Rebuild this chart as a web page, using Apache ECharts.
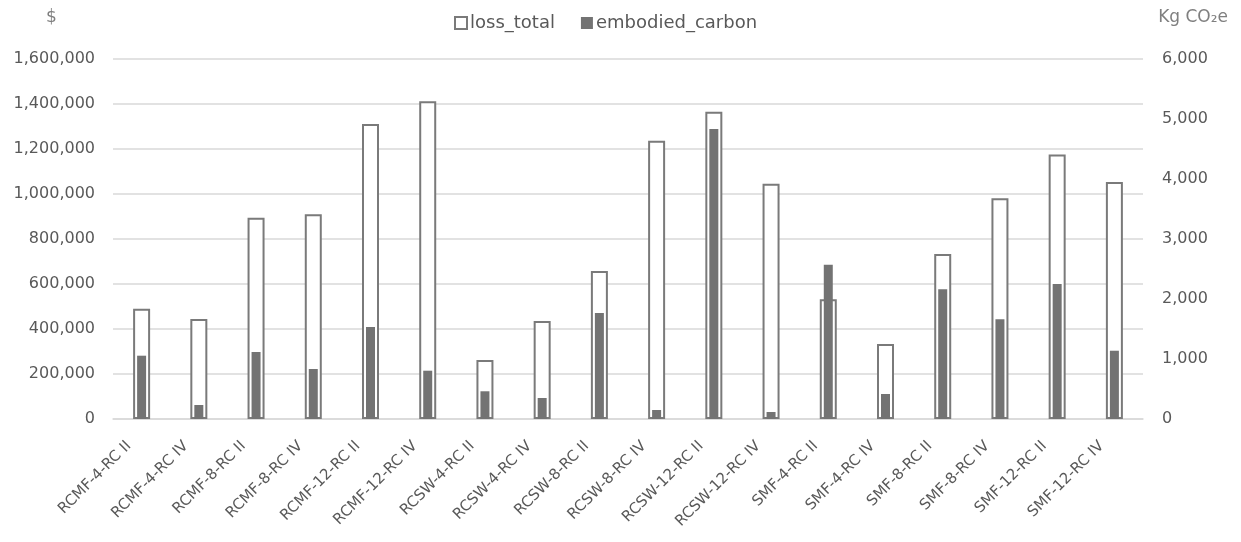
<!DOCTYPE html>
<html><head><meta charset="utf-8">
<script src="https://cdn.jsdelivr.net/npm/echarts@6/dist/echarts.min.js"></script>
<style>html,body{margin:0;padding:0;background:#fff}#c{width:1241px;height:542px}</style>
</head><body><div id="c"></div>
<script>
const categories = ['RCMF-4-RC II','RCMF-4-RC IV','RCMF-8-RC II','RCMF-8-RC IV','RCMF-12-RC II','RCMF-12-RC IV',
  'RCSW-4-RC II','RCSW-4-RC IV','RCSW-8-RC II','RCSW-8-RC IV','RCSW-12-RC II','RCSW-12-RC IV',
  'SMF-4-RC II','SMF-4-RC IV','SMF-8-RC II','SMF-8-RC IV','SMF-12-RC II','SMF-12-RC IV'];
const lossTotal = [490000, 444000, 895000, 910000, 1311000, 1412000,
  262000, 436000, 658000, 1237000, 1366000, 1046000,
  532000, 333000, 733000, 981000, 1176000, 1053000];
const embodiedCarbon = [1055, 233, 1117, 833, 1533, 805,
  462, 350, 1767, 150, 4833, 117,
  2572, 417, 2162, 1662, 2250, 1138];
const seriesNames = ['loss_total', 'embodied_carbon'];
const leftAxisTitle = '$';
const rightAxisTitle = 'Kg CO\u2082e';

const FONT = 'DejaVu Sans';
const TXT = '#595959';
const fmt = v => Number(v).toLocaleString('en-US');

const chart = echarts.init(document.getElementById('c'), null, {renderer: 'canvas'});
chart.setOption({
  animation: false,
  backgroundColor: '#ffffff',
  textStyle: {fontFamily: FONT},
  grid: {left: 113, right: 98, top: 59, bottom: 123, containLabel: false},
  legend: {
    data: seriesNames, left: 449, top: 9, itemWidth: 12, itemHeight: 12, itemGap: 26,
    icon: 'rect',
    textStyle: {fontFamily: FONT, fontSize: 18, color: TXT, padding: [0, 0, 0, -2]}
  },
  graphic: [
    {type: 'text', left: 46, top: 9, style: {text: leftAxisTitle, font: '17px "DejaVu Sans"', fill: '#7f7f7f'}},
    {type: 'text', right: 13, top: 9, style: {text: rightAxisTitle, font: '17px "DejaVu Sans"', fill: '#7f7f7f'}}
  ],
  xAxis: [
    {type: 'category', data: categories, axisTick: {show: false},
     axisLine: {lineStyle: {color: '#d9d9d9', width: 1.5}},
     axisLabel: {interval: 0, rotate: 45, fontFamily: FONT, fontSize: 15, color: TXT, margin: 12, padding: [0, 18, 0, 0]}},
    {type: 'category', data: categories, show: false}
  ],
  yAxis: [
    {type: 'value', min: 0, max: 1600000, interval: 200000, position: 'left',
     axisLine: {show: false}, axisTick: {show: false},
     splitLine: {lineStyle: {color: '#d9d9d9', width: 1.5}},
     axisLabel: {formatter: fmt, fontFamily: FONT, fontSize: 16, color: TXT, margin: 18}},
    {type: 'value', min: 0, max: 6000, interval: 1000, position: 'right',
     axisLine: {show: false}, axisTick: {show: false}, splitLine: {show: false},
     axisLabel: {formatter: fmt, fontFamily: FONT, fontSize: 16, color: TXT, margin: 19}}
  ],
  series: [
    {name: seriesNames[0], type: 'bar', xAxisIndex: 0, yAxisIndex: 0, data: lossTotal,
     barWidth: 17, itemStyle: {color: '#ffffff', borderColor: '#7a7a7a', borderWidth: 2}, z: 2},
    {name: seriesNames[1], type: 'bar', xAxisIndex: 1, yAxisIndex: 1, data: embodiedCarbon,
     barWidth: 9, itemStyle: {color: '#737373'}, z: 3}
  ]
});
</script></body></html>
